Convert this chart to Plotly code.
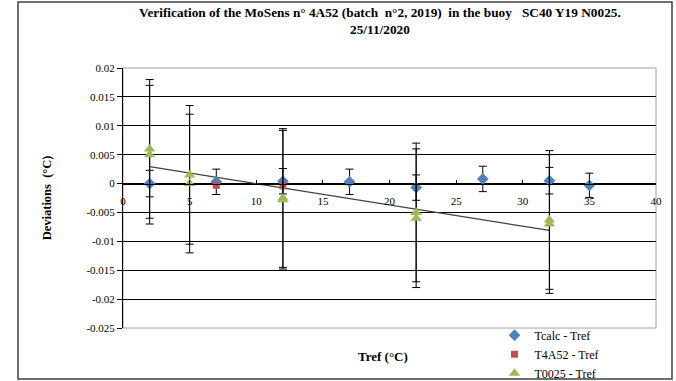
import numpy as np
import plotly.graph_objects as go

# Tcalc - Tref
tcalc_x = [2, 7, 12, 17, 22, 27, 32, 35]
tcalc_y = [0.0, 0.0003, 0.0004, 0.0003, -0.0007, 0.0008, 0.0005, -0.0003]
tcalc_err = [0.0023, 0.0022, 0.0022, 0.0022, 0.0022, 0.0022, 0.0023, 0.0021]

# T4A52 - Tref
t4a52_x = [7, 12]
t4a52_y = [-0.0003, -0.0004]

# T0025 - Tref
t0025_x = [2, 2, 5, 5, 12, 12, 22, 22, 32, 32]
t0025_y = [0.006, 0.005, 0.0015, 0.0, -0.0025, -0.0028, -0.005, -0.006, -0.0063, -0.007]
t0025_err = [0.012] * 10

yticks = [0.02, 0.015, 0.01, 0.005, 0, -0.005, -0.01, -0.015, -0.02, -0.025]
ytick_text = ["0.02", "0.015", "0.01", "0.005", "0", "-0.005", "-0.01", "-0.015", "-0.02", "-0.025"]
xticks = [0, 5, 10, 15, 20, 25, 30, 35, 40]

FONT = "Liberation Serif, Times New Roman, serif"

fig = go.Figure()

# trendline (linear fit of T0025 data)
coef = np.polyfit(t0025_x, t0025_y, 1)
tx = np.array([min(t0025_x), max(t0025_x)])
fig.add_trace(go.Scatter(x=tx, y=np.polyval(coef, tx), mode="lines",
                         line=dict(color="#404040", width=1.2), showlegend=False,
                         hoverinfo="skip"))

errstyle = dict(type="data", color="black", thickness=1, width=4)

fig.add_trace(go.Scatter(
    x=tcalc_x, y=tcalc_y, mode="markers", name="Tcalc - Tref",
    marker=dict(symbol="diamond", size=9, color="#4F81BD"),
    error_y=dict(array=tcalc_err, **errstyle)))
fig.add_trace(go.Scatter(
    x=t4a52_x, y=t4a52_y, mode="markers", name="T4A52 - Tref",
    marker=dict(symbol="square", size=7, color="#C0504D")))
fig.add_trace(go.Scatter(
    x=t0025_x, y=t0025_y, mode="markers", name="T0025 - Tref",
    marker=dict(symbol="triangle-up", size=10, color="#9BBB59"),
    error_y=dict(array=t0025_err, **errstyle)))

fig.update_layout(
    width=676, height=381,
    margin=dict(l=123, r=20, t=68, b=53, autoexpand=False),
    paper_bgcolor="white", plot_bgcolor="white",
    font=dict(family=FONT, size=11, color="black"),
    title=dict(
        text="Verification of the MoSens n° 4A52 (batch  n°2, 2019)  in the buoy   SC40 Y19 N0025.<br>25/11/2020",
        x=0.562, xanchor="center", y=0.955, yanchor="top",
        font=dict(family=FONT, size=13.3, color="black", weight="bold")),
    xaxis=dict(range=[0, 40], tickvals=xticks, showgrid=False, zeroline=False,
               showline=True, linecolor="black", linewidth=1,
               ticks="inside", ticklen=4, tickcolor="black",
               anchor="free", position=0.5556, ticklabelstandoff=7,
               tickfont=dict(family=FONT, size=11, color="black")),
    yaxis=dict(range=[-0.025, 0.02], tickvals=yticks, ticktext=ytick_text,
               showgrid=True, gridcolor="black", gridwidth=1, zeroline=False,
               showline=True, linecolor="black", linewidth=1,
               ticks="outside", ticklen=5, tickcolor="black",
               tickfont=dict(family=FONT, size=11, color="black")),
    legend=dict(x=0.697, y=0.028, xanchor="left", yanchor="top",
                bgcolor="rgba(0,0,0,0)", tracegroupgap=0,
                font=dict(family=FONT, size=12, color="black")),
    showlegend=True,
)

fig.add_annotation(text="<b>Tref (°C)</b>", xref="paper", yref="paper",
                   x=0.487, y=-0.11, xanchor="center", yanchor="middle",
                   showarrow=False,
                   font=dict(family=FONT, size=13, color="black"))
fig.add_annotation(text="<b>Deviations  (°C)</b>", xref="paper", yref="paper",
                   x=-0.142, y=0.5, xanchor="center", yanchor="middle",
                   textangle=-90, showarrow=False,
                   font=dict(family=FONT, size=12.5, color="black"))

# plot-area border (grey)
fig.add_shape(type="rect", xref="paper", yref="paper", x0=0, y0=0, x1=1, y1=1,
              line=dict(color="#A0A0A0", width=1), layer="below")
# outer chart border
fig.add_shape(type="rect", xref="paper", yref="paper",
              x0=(18 - 123) / 533, x1=(672 - 123) / 533,
              y0=(328 - 379) / 260, y1=(328 - 2) / 260,
              line=dict(color="#404040", width=1.5), layer="below")

fig.write_html("out.html")
